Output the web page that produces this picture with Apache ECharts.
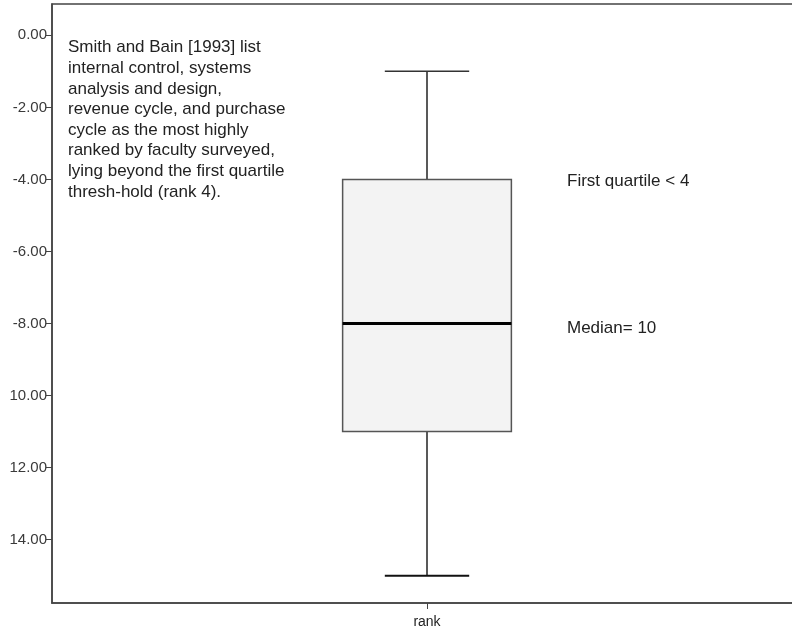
<!DOCTYPE html>
<html>
<head>
<meta charset="utf-8">
<script src="https://cdn.jsdelivr.net/npm/echarts@6/dist/echarts.min.js"></script>
<style>html,body{margin:0;padding:0;background:#fff}#c{width:792px;height:634px}</style>
</head>
<body>
<div id="c"></div>
<script>
const categories = ['rank'];
const whiskerLow = [1];
const q1 = [4];
const median = [8];
const q3 = [11];
const whiskerHigh = [15];
const yTickValues = [0, 2, 4, 6, 8, 10, 12, 14];
const yTickLabels = ['0.00', '-2.00', '-4.00', '-6.00', '-8.00', '10.00', '12.00', '14.00'];
const noteText = [
  'Smith and Bain [1993] list',
  'internal control, systems',
  'analysis and design,',
  'revenue cycle, and purchase',
  'cycle as the most highly',
  'ranked by faculty surveyed,',
  'lying beyond the first quartile',
  'thresh-hold (rank 4).'
];
const q1Note = 'First quartile < 4';
const medianNote = 'Median= 10';

const boxData = categories.map((c, i) => [i, whiskerLow[i], q1[i], median[i], q3[i], whiskerHigh[i]]);

const chart = echarts.init(document.getElementById('c'), null, {renderer: 'canvas'});
const FONT = 'Liberation Sans, Arial, sans-serif';
chart.setOption({
  animation: false,
  backgroundColor: '#fff',
  grid: {left: 52, top: 4, width: 750, bottom: 31, outerBoundsMode: 'none', containLabel: false, show: true, borderColor: '#444', borderWidth: 1.5, backgroundColor: '#fff'},
  xAxis: {
    type: 'category',
    data: categories,
    axisLine: {show: true, onZero: false, lineStyle: {color: '#444', width: 1.5}},
    axisTick: {show: true, alignWithLabel: true, length: 6, lineStyle: {color: '#444', width: 1}},
    axisLabel: {color: '#222', fontFamily: FONT, fontSize: 14, margin: 12},
    splitLine: {show: false}
  },
  yAxis: {
    type: 'value',
    inverse: true,
    min: -0.87,
    max: 15.76,
    axisLine: {show: true, onZero: false, lineStyle: {color: '#444', width: 1.5}},
    axisTick: {show: true, length: 6, customValues: yTickValues, lineStyle: {color: '#444', width: 1}},
    axisLabel: {
      customValues: yTickValues,
      color: '#3a3a3a', fontFamily: FONT, fontSize: 15, margin: 5,
      formatter: function (v) { const k = yTickValues.indexOf(Math.round(v)); return k >= 0 ? yTickLabels[k] : ''; }
    },
    splitLine: {show: false}
  },
  series: [{
    type: 'custom',
    data: boxData,
    encode: {x: 0, y: [1, 2, 3, 4, 5]},
    renderItem: function (params, api) {
      const xi = api.value(0);
      const band = api.size([1, 0])[0];
      const half = band * 0.1125;
      const capHalf = half * 0.5;
      const pLow = api.coord([xi, api.value(1)]);
      const pQ1 = api.coord([xi, api.value(2)]);
      const pMed = api.coord([xi, api.value(3)]);
      const pQ3 = api.coord([xi, api.value(4)]);
      const pHigh = api.coord([xi, api.value(5)]);
      const cx = pMed[0];
      return {
        type: 'group',
        children: [
          {type: 'line', shape: {x1: cx, y1: pLow[1], x2: cx, y2: pQ1[1]}, style: {stroke: '#222', lineWidth: 1.5}},
          {type: 'line', shape: {x1: cx, y1: pQ3[1], x2: cx, y2: pHigh[1]}, style: {stroke: '#222', lineWidth: 1.5}},
          {type: 'line', shape: {x1: cx - capHalf, y1: pLow[1], x2: cx + capHalf, y2: pLow[1]}, style: {stroke: '#333', lineWidth: 1.5}},
          {type: 'line', shape: {x1: cx - capHalf, y1: pHigh[1], x2: cx + capHalf, y2: pHigh[1]}, style: {stroke: '#111', lineWidth: 2}},
          {type: 'rect', shape: {x: cx - half, y: pQ1[1], width: half * 2, height: pQ3[1] - pQ1[1]}, style: {fill: '#f3f3f3', stroke: '#555', lineWidth: 1.5}},
          {type: 'line', shape: {x1: cx - half, y1: pMed[1], x2: cx + half, y2: pMed[1]}, style: {stroke: '#000', lineWidth: 3}}
        ]
      };
    }
  }],
  graphic: [
    {type: 'text', left: 68, top: 37.5, style: {text: noteText.join('\n'), font: '17px ' + FONT, fill: '#222', lineHeight: 20.6}},
    {type: 'text', left: 567, top: 173, style: {text: q1Note, font: '17px ' + FONT, fill: '#222'}},
    {type: 'text', left: 567, top: 320, style: {text: medianNote, font: '17px ' + FONT, fill: '#222'}}
  ]
});
</script>
</body>
</html>
